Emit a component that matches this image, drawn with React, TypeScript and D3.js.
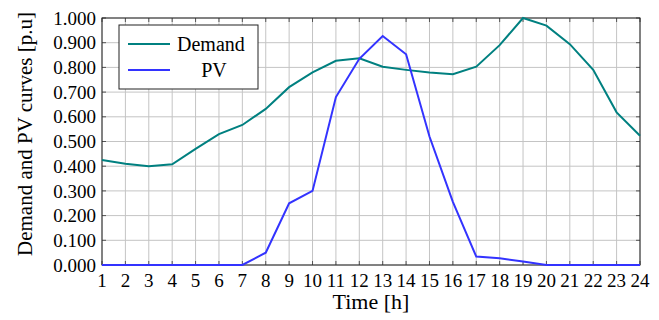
import React from 'react';
import * as d3 from 'd3';

const hours = d3.range(1, 25);
const demand = [0.425, 0.41, 0.4, 0.408, 0.47, 0.53, 0.567, 0.632, 0.72, 0.78, 0.827, 0.837, 0.803, 0.79, 0.779, 0.772, 0.803, 0.89, 1.0, 0.969, 0.894, 0.79, 0.618, 0.523];
const pv = [0, 0, 0, 0, 0, 0, 0, 0.05, 0.25, 0.3, 0.68, 0.835, 0.927, 0.853, 0.52, 0.256, 0.034, 0.027, 0.014, 0, 0, 0, 0, 0];
const yTicks = [0, 0.1, 0.2, 0.3, 0.4, 0.5, 0.6, 0.7, 0.8, 0.9, 1.0];
const seriesNames = ['Demand', 'PV'];
const seriesColors = ['#008080', '#3333ff'];

const width = 659;
const height = 320;
const margin = { left: 102, right: 19, top: 18, bottom: 55 };

export default function App() {
  const x = d3.scaleLinear().domain([1, 24]).range([margin.left, width - margin.right]);
  const y = d3.scaleLinear().domain([0, 1]).range([height - margin.bottom, margin.top]);
  const line = d3.line<number>().x((_, i) => x(hours[i])).y(d => y(d));
  const font = '"Liberation Serif", "Times New Roman", serif';
  const [x0, x1] = x.range();
  const [y0, y1] = y.range();

  return (
    <svg width={width} height={height} style={{ position: 'absolute', left: 0, top: 0, fontFamily: font }}>
      <rect width={width} height={height} fill="#fff" />
      {/* grid */}
      {hours.map(h => (
        <line key={'gx' + h} x1={x(h)} x2={x(h)} y1={y1} y2={y0} stroke="#c4c4c4" strokeWidth={1} />
      ))}
      {yTicks.map(t => (
        <line key={'gy' + t} x1={x0} x2={x1} y1={y(t)} y2={y(t)} stroke="#c4c4c4" strokeWidth={1} />
      ))}
      {/* ticks inside */}
      {hours.map(h => (
        <g key={'tx' + h}>
          <line x1={x(h)} x2={x(h)} y1={y0} y2={y0 - 4} stroke="#555" />
          <line x1={x(h)} x2={x(h)} y1={y1} y2={y1 + 4} stroke="#555" />
        </g>
      ))}
      {yTicks.map(t => (
        <g key={'ty' + t}>
          <line x1={x0} x2={x0 + 4} y1={y(t)} y2={y(t)} stroke="#555" />
          <line x1={x1} x2={x1 - 4} y1={y(t)} y2={y(t)} stroke="#555" />
        </g>
      ))}
      <rect x={x0} y={y1} width={x1 - x0} height={y0 - y1} fill="none" stroke="#222" strokeWidth={1} />
      {/* series */}
      <path d={line(demand) ?? ''} fill="none" stroke={seriesColors[0]} strokeWidth={2} />
      <path d={line(pv) ?? ''} fill="none" stroke={seriesColors[1]} strokeWidth={2} />
      {/* tick labels */}
      {hours.map(h => (
        <text key={'lx' + h} x={x(h)} y={y0 + 22} textAnchor="middle" fontSize={19}>{h}</text>
      ))}
      {yTicks.map(t => (
        <text key={'ly' + t} x={x0 - 6} y={y(t)} dy="0.35em" textAnchor="end" fontSize={19}>{t.toFixed(3)}</text>
      ))}
      <text x={(x0 + x1) / 2} y={309} textAnchor="middle" fontSize={22}>Time [h]</text>
      <text transform={`translate(32,134) rotate(-90)`} textAnchor="middle" fontSize={21}>Demand and PV curves [p.u]</text>
      {/* legend */}
      <rect x={119} y={25} width={139} height={64} fill="#fff" stroke="#222" strokeWidth={1} />
      {seriesNames.map((n, i) => (
        <g key={n}>
          <line x1={128} x2={170} y1={44 + i * 26} y2={44 + i * 26} stroke={seriesColors[i]} strokeWidth={2} />
          <text x={i === 0 ? 177 : 214} y={44 + i * 26} dy="0.35em" textAnchor={i === 0 ? 'start' : 'middle'} fontSize={20}>{n}</text>
        </g>
      ))}
    </svg>
  );
}
